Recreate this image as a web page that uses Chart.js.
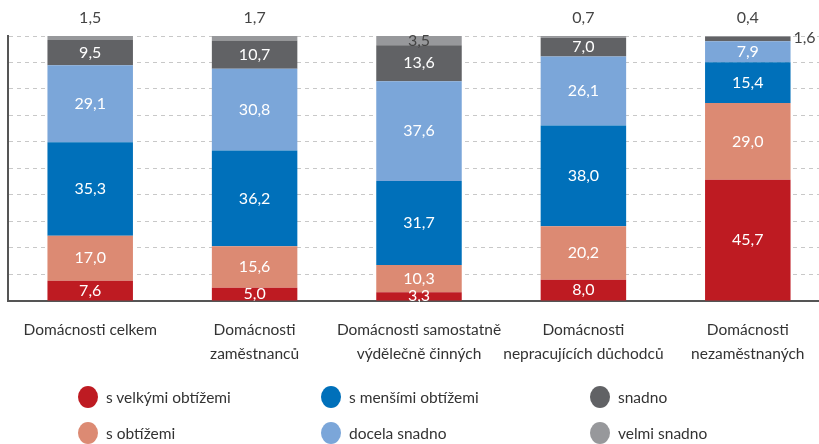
<!DOCTYPE html>
<html>
<head>
<meta charset="utf-8">
<script src="https://cdn.jsdelivr.net/npm/chart.js@4.4.1/dist/chart.umd.min.js"></script>
<style>
  html, body { margin: 0; padding: 0; background: #fff; overflow: hidden; }
  #wrap { position: relative; width: 819px; height: 444px; overflow: hidden; }
  #chart { position: absolute; left: 0; top: 0; }
  .legend { position: absolute; font-family: Lato, sans-serif; font-size: 15.5px; color: #333; }
  .legend div { position: absolute; white-space: nowrap; display: flex; align-items: center; }
  .legend span.dot { display: inline-block; width: 20px; height: 22px; border-radius: 50%; margin-right: 8px; }
</style>
</head>
<body>
<div id="wrap">
  <canvas id="chart" width="830" height="444"></canvas>
  <div class="legend" id="legend"></div>
</div>
<script>
// kategorie
var categories = [
    ['Domácnosti celkem'],
    ['Domácnosti', 'zaměstnanců'],
    ['Domácnosti samostatně', 'výdělečně činných'],
    ['Domácnosti', 'nepracujících důchodců'],
    ['Domácnosti', 'nezaměstnaných']
];

// hodnoty v %
var velkeObtize  = [7.6, 5.0, 3.3, 8.0, 45.7];
var sObtizemi    = [17.0, 15.6, 10.3, 20.2, 29.0];
var mensiObtize  = [35.3, 36.2, 31.7, 38.0, 15.4];
var docelaSnadno = [29.1, 30.8, 37.6, 26.1, 7.9];
var snadno       = [9.5, 10.7, 13.6, 7.0, 1.6];
var velmiSnadno  = [1.5, 1.7, 3.5, 0.7, 0.4];

var seriesNames  = ['s velkými obtížemi', 's obtížemi', 's menšími obtížemi', 'docela snadno', 'snadno', 'velmi snadno'];
var seriesColors = ['#BE1B22', '#DC8A73', '#0070BA', '#7BA6D9', '#616265', '#97989B'];
var seriesData   = [velkeObtize, sObtizemi, mensiObtize, docelaSnadno, snadno, velmiSnadno];

var datasets = seriesData.map(function (d, i) {
    return {
        label: seriesNames[i],
        data: d,
        backgroundColor: seriesColors[i],
        borderWidth: 0,
        barPercentage: 0.52,
        categoryPercentage: 1
    };
});

// popisky hodnot
var valueLabels = {
    id: 'valueLabels',
    afterDatasetsDraw: function (chart) {
        var ctx = chart.ctx;
        ctx.save();
        ctx.font = '16px Lato, sans-serif';
        ctx.textAlign = 'center';
        ctx.textBaseline = 'middle';
        chart.data.datasets.forEach(function (ds, di) {
            var meta = chart.getDatasetMeta(di);
            meta.data.forEach(function (el, i) {
                var v = ds.data[i];
                var txt = v.toFixed(1).replace('.', ',');
                var x = el.x, y = (el.y + el.base) / 2;
                ctx.fillStyle = '#fff';
                if (di === 5) ctx.fillStyle = '#444';
                if (v < 3) {
                    ctx.fillStyle = '#444';
                    if (di === 5) {
                        y = el.y - 18;
                    } else {
                        x = el.x + el.width / 2 + 14;
                        y = el.y + 1;
                    }
                }
                ctx.fillText(txt, x, y);
            });
        });
        ctx.restore();
    }
};

var ctx = document.getElementById('chart');

var chart = new Chart(ctx, {
    type: 'bar',
    data: {
        labels: categories,
        datasets: datasets
    },
    options: {
        responsive: false,
        animation: false,
        layout: { padding: { left: 8, top: 36, right: 0, bottom: 61 } },
        plugins: {
            legend: { display: false },
            tooltip: { enabled: false }
        },
        scales: {
            x: {
                stacked: true,
                grid: { display: false, drawTicks: false },
                border: { display: true, color: '#555', width: 2 },
                ticks: {
                    color: '#333',
                    font: { family: 'Lato, sans-serif', size: 15.5, lineHeight: 1.55 },
                    padding: 17,
                    maxRotation: 0,
                    autoSkip: false
                }
            },
            y: {
                stacked: true,
                min: 0,
                max: 100,
                ticks: { display: false, stepSize: 10 },
                grid: { color: '#c8c8c8', drawTicks: false, tickLength: 0 },
                border: { display: true, color: '#555', width: 2, dash: [4, 4] }
            }
        }
    },
    plugins: [valueLabels]
});

// legenda
var legendOrder = [0, 2, 4, 1, 3, 5];
var legendCols = [78, 321, 590];
var legendRows = [386, 422];
var legend = document.getElementById('legend');
legendOrder.forEach(function (si, k) {
    var item = document.createElement('div');
    item.style.left = legendCols[k % 3] + 'px';
    item.style.top = legendRows[Math.floor(k / 3)] + 'px';
    item.innerHTML = '<span class="dot" style="background:' + seriesColors[si] + '"></span>' + seriesNames[si];
    legend.appendChild(item);
});
</script>
</body>
</html>
